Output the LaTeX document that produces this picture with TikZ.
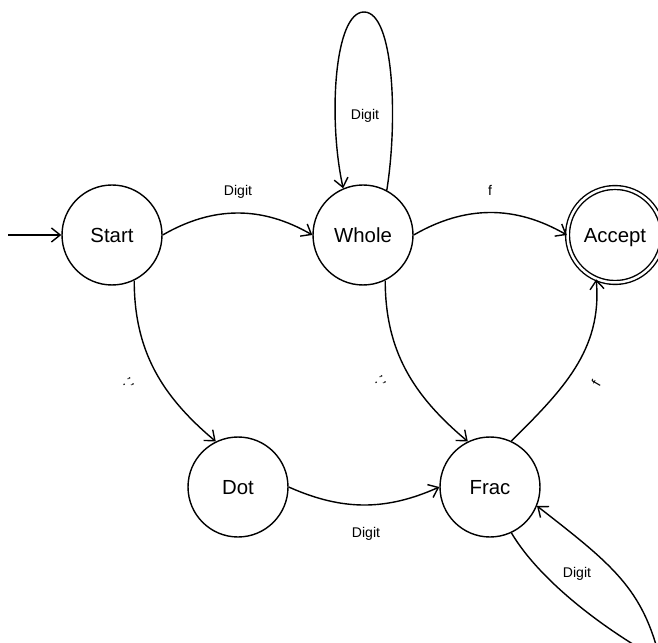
\documentclass[tikz,border=0pt]{standalone}
\usepackage{fontspec}
\setmainfont{Liberation Sans}
\usetikzlibrary{arrows.meta}
\begin{document}
\begin{tikzpicture}[x=0.02cm, y=0.02cm, line width=0.8pt,
  state/.style={circle, draw, minimum size=2cm, inner sep=0pt,
    text height=8.3pt, text depth=0pt,
    font=\fontsize{11.6}{14}\selectfont},
  final/.style={state, double, double distance=1.4pt, minimum size=1.9cm},
  arr/.style={-{Straight Barb[length=5pt,width=8pt]}},
  lbl/.style={font=\fontsize{8}{10}\selectfont, inner sep=0pt,
    text height=5.7pt, text depth=0pt}]
  \useasboundingbox (0,0) rectangle (658,642);
  \clip (0,0) rectangle (658,642);

  % states
  \node[state] (Start)  at (112,407) {Start};
  \node[state] (Whole)  at (363,407) {Whole};
  \node[final] (Accept) at (615,407) {Accept};
  \node[state] (Dot)    at (238,155) {Dot};
  \node[state] (Frac)   at (490,155) {Frac};

  % entry arrow
  \coordinate (init) at (8,407);
  \draw[arr] (init) -- (Start);

  % transitions
  \draw[arr] (Start.east) to[bend left=30] (Whole.west);
  \draw[arr] (Whole.east) to[bend left=30] (Accept.west);
  \draw[arr] (Start.-64) to[out=-90, in=140] (Dot.116);
  \draw[arr] (Whole.-64) to[out=-90, in=140] (Frac.116);
  \draw[arr] (Dot.east) to[bend right=24] (Frac.west);
  \draw[arr] (Frac.65) to[out=45, in=-85] (Accept.-113);

  % self loops
  \coordinate (wtop) at (364,630);
  \draw[arr] (Whole.62) .. controls (398,522) and (394,630) .. (wtop)
                        .. controls (334,630) and (328,522) .. (Whole.113);
  \coordinate (ftip) at (660,-18);
  \draw[arr] (Frac.-65) .. controls (541.6,58.4) and (609.4,9.6) .. (ftip)
                        .. controls (643,53.5) and (612,77.6) .. (Frac.-22);

  % labels
  \node[lbl] (l1) at (238,452) {Digit};
  \node[lbl] (l2) at (490,452) {f};
  \node[lbl] (l3) at (365,528) {Digit};
  \node[lbl, rotate=-60] (l4) at (128,259) {'.'};
  \node[lbl, rotate=-60] (l5) at (380,261) {'.'};
  \node[lbl] (l6) at (366,110) {Digit};
  \node[lbl, rotate=60] (l7) at (596,259) {f};
  \node[lbl] (l8) at (577,70) {Digit};
\end{tikzpicture}
\end{document}
